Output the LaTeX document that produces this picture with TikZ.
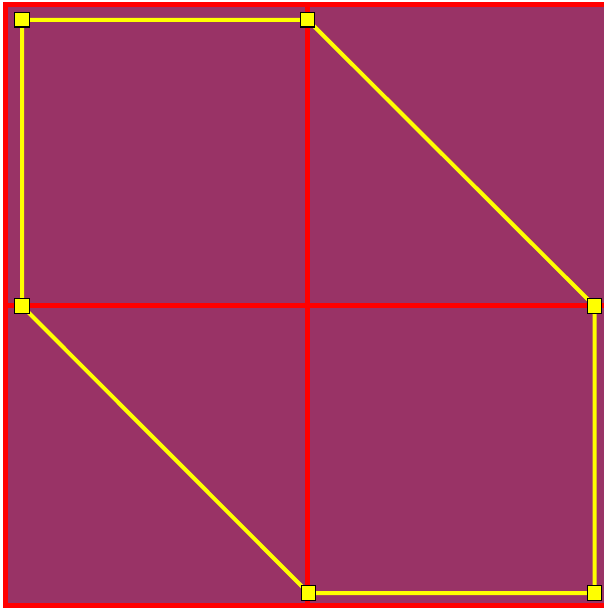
\documentclass[tikz,border=0pt]{standalone}
\begin{document}
\begin{tikzpicture}[x=1pt,y=-1pt,
  bgfill/.style={fill={rgb,255:red,153;green,51;blue,102}},
  redline/.style={draw={rgb,255:red,255;green,0;blue,0},line width=4.6pt},
  yel/.style={draw={rgb,255:red,255;green,255;blue,0},line width=4pt},
  marker/.style={rectangle,fill={rgb,255:red,255;green,255;blue,0},draw=black,line width=1.2pt,minimum size=14.5pt,inner sep=0pt}]
\useasboundingbox (0,0) rectangle (604,608);
\clip (0,0) rectangle (604,608);
% background and red frame
\fill[white] (0,0) rectangle (604,608);
\fill[bgfill] (5.7,4.7) rectangle (620,605.5);
\coordinate (tl) at (5.7,4.7);
\coordinate (br) at (620,605.5);
\draw[redline] (tl) rectangle (br);
% red cross
\coordinate (vt) at (307.5,4.7);
\coordinate (vb) at (307.5,605.5);
\coordinate (hl) at (5.7,305.5);
\coordinate (hr) at (620,305.5);
\draw[redline,line width=5pt] (vt) -- (vb);
\draw[redline,line width=5pt] (hl) -- (hr);
% markers
\node[marker] (a) at (22,19.8) {};
\node[marker] (b) at (307.5,19.8) {};
\node[marker] (c) at (594.5,306) {};
\node[marker] (d) at (594.5,593) {};
\node[marker] (e) at (308.5,593) {};
\node[marker] (f) at (22,306) {};
% yellow hexagon
\draw[yel] (a.center) -- (b.center) -- (c.center) -- (d.center) -- (e.center) -- (f.center) -- cycle;
% redraw markers on top
\node[marker] at (a.center) {};
\node[marker] at (b.center) {};
\node[marker] at (c.center) {};
\node[marker] at (d.center) {};
\node[marker] at (e.center) {};
\node[marker] at (f.center) {};
\end{tikzpicture}
\end{document}
